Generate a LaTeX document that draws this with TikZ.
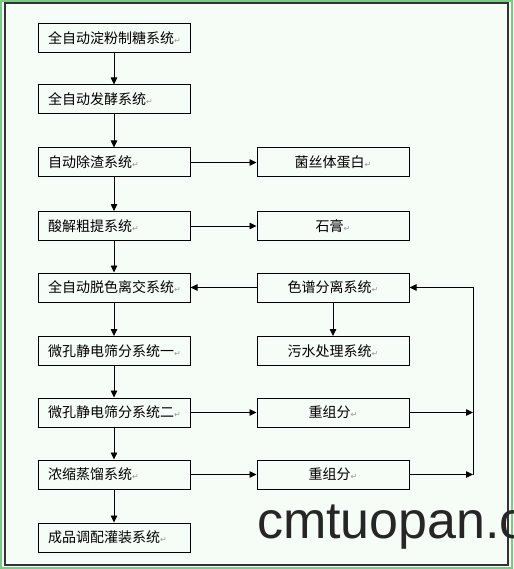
\documentclass[tikz,border=0pt]{standalone}
\usepackage{fontspec}
\newfontfamily\cjk{Noto Sans CJK SC}
\newfontfamily\symf{DejaVu Sans}
\newfontfamily\wmark{Liberation Sans}
\usetikzlibrary{arrows.meta}
\definecolor{paper}{HTML}{F6FCF6}
\definecolor{rim}{HTML}{7CCB84}
\definecolor{frame}{HTML}{333333}
\newcommand{\ret}{{\symf\fontsize{8}{8}\selectfont\color{black!40}↵}}
\tikzset{
  sys/.style ={draw=black, line width=1pt, minimum height=29pt, text width=132pt, inner xsep=10pt, inner ysep=0pt, align=left, font=\cjk\fontsize{14}{16}\selectfont},
  prod/.style={sys, align=center},
  flow/.style={-{Triangle[length=7pt,width=6.5pt]}, line width=0.8pt},
}

\begin{document}
\begin{tikzpicture}[x=1pt,y=-1pt]
  \useasboundingbox (0,0) rectangle (513,569);
  \clip (0,0) rectangle (513,569);
  \fill[rim] (0,0) rectangle (513,569);
  \fill[paper] (2,2) rectangle (511,567);
  \draw[frame, line width=1.5pt] (5,3) rectangle (508,565);
  % main line
  \node[sys] (S1) at (114,38.5)  {全自动淀粉制糖系统\ret};
  \node[sys] (S2) at (114,99.5)  {全自动发酵系统\ret};
  \node[sys] (S3) at (114,162.5) {自动除渣系统\ret};
  \node[sys] (S4) at (114,226)   {酸解粗提系统\ret};
  \node[sys] (S5) at (114,287.5) {全自动脱色离交系统\ret};
  \node[sys] (S6) at (114,351)   {微孔静电筛分系统一\ret};
  \node[sys] (S7) at (114,412.5) {微孔静电筛分系统二\ret};
  \node[sys] (S8) at (114,474.5) {浓缩蒸馏系统\ret};
  \node[sys] (S9) at (114,537.5) {成品调配灌装系统\ret};
  % side products
  \node[prod] (C3) at (333,162.5) {菌丝体蛋白\ret};
  \node[prod] (C4) at (333,226)   {石膏\ret};
  \node[prod] (C5) at (333,287.5) {色谱分离系统\ret};
  \node[prod] (C6) at (333,351)   {污水处理系统\ret};
  \node[prod] (C7) at (333,412.5) {重组分\ret};
  \node[prod] (C8) at (333,474.5) {重组分\ret};
  \coordinate (J5) at (473,287.5);
  \coordinate (J7) at (473,412.5);
  \coordinate (J8) at (473,474.5);
  \foreach \a/\b in {S1/S2,S2/S3,S3/S4,S4/S5,S5/S6,S6/S7,S7/S8,S8/S9}
    \draw[flow] (\a) -- (\b);
  \draw[flow] (S3) -- (C3);
  \draw[flow] (S4) -- (C4);
  \draw[flow] (C5) -- (S5);
  \draw[flow] (C5) -- (C6);
  \draw[flow] (S7) -- (C7);
  \draw[flow] (S8) -- (C8);
  \draw[flow] (C7) -- (J7);
  \draw[flow] (C8) -- (J8);
  \draw[flow] (J8) -- (J5) -- (C5);
  \node[anchor=base west, inner sep=0pt, font=\wmark\fontsize{52}{52}\selectfont, text=black!85] (wm) at (257,538) {cmtuopan.c};
\end{tikzpicture}
\end{document}
